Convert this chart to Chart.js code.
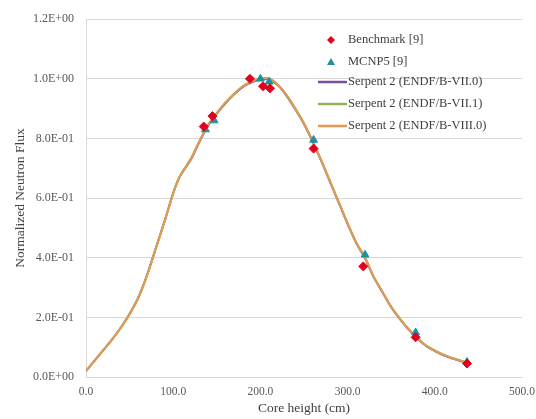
<!DOCTYPE html>
<html>
<head>
<meta charset="utf-8">
<script src="https://cdn.jsdelivr.net/npm/chart.js@4"></script>
<style>
    html, body { margin: 0; padding: 0; background: #ffffff; }
    #wrap { width: 536px; height: 419px; }
</style>
</head>
<body>
<div id="wrap"><canvas id="flux" width="536" height="419"></canvas></div>
<script>
// core height (cm) for the measured / reference points
const benchHeights = [135, 145, 188, 203, 211, 261, 318, 378, 437];
const benchValues  = [0.840, 0.875, 1.000, 0.975, 0.968, 0.766, 0.371, 0.133, 0.045];

const mcnpHeights = [137, 147, 200, 210, 261, 320, 378, 437];
const mcnpValues  = [0.830, 0.860, 1.000, 0.990, 0.795, 0.410, 0.149, 0.050];

// Serpent 2 axial profiles
const serpentHeights = [0, 10, 20, 30, 40, 50, 60, 70, 80, 90, 100, 105, 110, 120, 130, 140, 150,
    160, 170, 180, 190, 200, 210, 220, 230, 240, 250, 260, 270, 280, 290, 300, 310, 320,
    330, 340, 350, 360, 370, 380, 390, 400, 410, 420, 430, 437];
const serpentVII0 = [0.020, 0.056, 0.091, 0.126, 0.166, 0.212, 0.267, 0.342, 0.432, 0.522, 0.617, 0.657, 0.684, 0.728, 0.788, 0.843, 0.883,
    0.918, 0.948, 0.973, 0.988, 0.998, 0.998, 0.978, 0.943, 0.898, 0.848, 0.788, 0.723, 0.653, 0.583, 0.513, 0.448, 0.398,
    0.334, 0.284, 0.234, 0.194, 0.159, 0.129, 0.104, 0.087, 0.073, 0.062, 0.053, 0.047];
const serpentVII1 = [0.020, 0.055, 0.090, 0.126, 0.166, 0.211, 0.266, 0.341, 0.431, 0.521, 0.616, 0.656, 0.686, 0.731, 0.791, 0.846, 0.886,
    0.921, 0.951, 0.976, 0.991, 1.001, 1.001, 0.981, 0.946, 0.901, 0.851, 0.791, 0.726, 0.656, 0.586, 0.516, 0.451, 0.401,
    0.336, 0.286, 0.236, 0.196, 0.161, 0.131, 0.106, 0.089, 0.075, 0.064, 0.055, 0.049];
const serpentVIII0 = [0.020, 0.055, 0.090, 0.125, 0.165, 0.210, 0.265, 0.340, 0.430, 0.520, 0.615, 0.655, 0.685, 0.730, 0.790, 0.845, 0.885,
    0.920, 0.950, 0.975, 0.990, 1.000, 1.000, 0.980, 0.945, 0.900, 0.850, 0.790, 0.725, 0.655, 0.585, 0.515, 0.450, 0.400,
    0.335, 0.285, 0.235, 0.195, 0.160, 0.130, 0.105, 0.088, 0.074, 0.063, 0.054, 0.048];

const yTicks = [0, 0.2, 0.4, 0.6, 0.8, 1.0, 1.2];
const xTicks = [0, 100, 200, 300, 400, 500];

const fontFamily = '"Liberation Serif", "Times New Roman", serif';
const textColor = '#595959';
const legendColor = '#404040';
const gridColor = '#d9d9d9';

const toPoints = (xs, ys) => xs.map((x, i) => ({ x: x, y: ys[i] }));

// Excel style 1.2E+00
function sciLabel(v) {
    if (Math.abs(v) < 1e-9) return '0.0E+00';
    const parts = v.toExponential(1).toUpperCase().split('E');
    const exp = parseInt(parts[1], 10);
    const sign = exp < 0 ? '-' : '+';
    return parts[0] + 'E' + sign + String(Math.abs(exp)).padStart(2, '0');
}

// -----------------------------
// legend drawn inside the plot area
// -----------------------------
const insideLegend = {
    id: 'insideLegend',
    afterDraw(chart) {
        const ctx = chart.ctx;
        const x0 = 331;
        const textX = 348;
        const rows = [40, 62, 82, 104, 126];
        ctx.save();
        ctx.font = '12.5px ' + fontFamily;
        ctx.textBaseline = 'middle';
        ctx.textAlign = 'left';
        chart.data.datasets.forEach((ds, i) => {
            const y = rows[i];
            if (ds.showLine) {
                ctx.strokeStyle = ds.borderColor;
                ctx.lineWidth = 2.5;
                ctx.beginPath();
                ctx.moveTo(318, y);
                ctx.lineTo(347, y);
                ctx.stroke();
            } else {
                ctx.fillStyle = ds.backgroundColor;
                ctx.beginPath();
                if (ds.pointStyle === 'rectRot') {
                    ctx.moveTo(x0, y - 4);
                    ctx.lineTo(x0 + 4, y);
                    ctx.lineTo(x0, y + 4);
                    ctx.lineTo(x0 - 4, y);
                } else {
                    ctx.moveTo(x0, y - 4);
                    ctx.lineTo(x0 + 4, y + 3);
                    ctx.lineTo(x0 - 4, y + 3);
                }
                ctx.closePath();
                ctx.fill();
            }
            ctx.fillStyle = legendColor;
            ctx.fillText(ds.label, textX, y);
        });
        ctx.restore();
    }
};

new Chart(document.getElementById('flux'), {
    type: 'scatter',
    data: {
        datasets: [
            {
                label: 'Benchmark [9]',
                data: toPoints(benchHeights, benchValues),
                pointStyle: 'rectRot',
                pointRadius: 4.5,
                backgroundColor: '#e3001b',
                borderColor: '#e3001b',
                showLine: false,
                order: 0
            },
            {
                label: 'MCNP5 [9]',
                data: toPoints(mcnpHeights, mcnpValues),
                pointStyle: 'triangle',
                pointRadius: 4.5,
                backgroundColor: '#1f8fa3',
                borderColor: '#1f8fa3',
                showLine: false,
                order: 1
            },
            {
                label: 'Serpent 2 (ENDF/B-VII.0)',
                data: toPoints(serpentHeights, serpentVII0),
                showLine: true,
                borderColor: '#7a4fa0',
                borderWidth: 2,
                pointRadius: 0,
                tension: 0.3,
                order: 4
            },
            {
                label: 'Serpent 2 (ENDF/B-VII.1)',
                data: toPoints(serpentHeights, serpentVII1),
                showLine: true,
                borderColor: '#8db55c',
                borderWidth: 2,
                pointRadius: 0,
                tension: 0.3,
                order: 3
            },
            {
                label: 'Serpent 2 (ENDF/B-VIII.0)',
                data: toPoints(serpentHeights, serpentVIII0),
                showLine: true,
                borderColor: '#e39a55',
                borderWidth: 2,
                pointRadius: 0,
                tension: 0.3,
                order: 2
            }
        ]
    },
    options: {
        responsive: false,
        animation: false,
        layout: { padding: { top: 15, right: 14, left: 0, bottom: 0 } },
        plugins: {
            legend: { display: false },
            tooltip: { enabled: false }
        },
        scales: {
            x: {
                type: 'linear',
                min: 0,
                max: 500,
                afterBuildTicks: (axis) => { axis.ticks = xTicks.map(v => ({ value: v })); },
                afterFit: (axis) => {
                    axis.height = 42;
                    axis.paddingLeft = 0;
                    axis.paddingRight = 0;
                },
                ticks: {
                    color: textColor,
                    font: { family: fontFamily, size: 11.5 },
                    padding: 8,
                    callback: (v) => Number(v).toFixed(1)
                },
                grid: { display: false, drawTicks: false },
                border: { display: true, color: gridColor, width: 1 },
                title: {
                    display: true,
                    text: 'Core height (cm)',
                    color: legendColor,
                    font: { family: fontFamily, size: 13.5 },
                    padding: { top: 2, bottom: 2 }
                }
            },
            y: {
                type: 'linear',
                min: 0,
                max: 1.2,
                afterBuildTicks: (axis) => { axis.ticks = yTicks.map(v => ({ value: v })); },
                afterFit: (axis) => { axis.width = 86; },
                ticks: {
                    color: textColor,
                    font: { family: fontFamily, size: 12 },
                    padding: 12,
                    callback: (v) => sciLabel(v)
                },
                grid: { color: gridColor, drawTicks: false },
                border: { display: true, color: gridColor, width: 1 },
                title: {
                    display: true,
                    text: 'Normalized Neutron Flux',
                    color: legendColor,
                    font: { family: fontFamily, size: 13.5 },
                    padding: { top: 12, bottom: 4 }
                }
            }
        }
    },
    plugins: [insideLegend]
});
</script>
</body>
</html>
